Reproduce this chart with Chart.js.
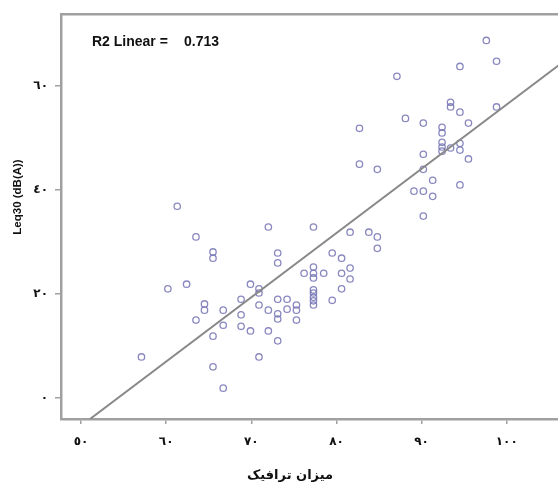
<!DOCTYPE html>
<html>
<head>
<meta charset="utf-8">
<script src="https://cdn.jsdelivr.net/npm/chart.js@4.4.1/dist/chart.umd.min.js"></script>
<style>
html,body{margin:0;padding:0;background:#fff;overflow:hidden;width:558px;height:486px}
#wrap{width:564px;height:486px;position:relative}
</style>
</head>
<body>
<div id="wrap"><canvas id="chart"></canvas></div>
<script>
// traffic volume vs Leq30
const traffic = [
  97.6, 98.8, 94.5, 87.1, 93.4, 93.4, 94.5, 98.8, 88.1, 90.2,
  95.5, 82.7, 92.4, 92.4, 92.4, 92.4, 92.4, 93.4, 94.5, 94.5,
  90.2, 95.5, 82.7, 84.8, 90.2, 91.3, 94.5, 89.1, 90.2, 91.3,
  90.2, 77.3, 81.6, 83.8, 84.8, 84.8, 79.5, 80.6, 77.3, 77.3,
  77.3, 76.2, 78.5, 80.6, 81.6, 81.6, 80.6, 77.3, 77.3, 77.3,
  77.3, 77.3, 79.5, 72.0, 73.1, 73.1, 69.9, 70.9, 70.9, 70.9,
  73.1, 74.2, 72.0, 74.2, 73.1, 73.1, 75.3, 75.3, 75.3, 69.9,
  72.0, 73.1, 68.8, 68.8, 68.8, 66.7, 66.7, 64.5, 64.5, 63.5,
  65.5, 60.2, 62.4, 65.5, 65.5, 63.5, 61.3, 57.1, 70.9, 65.5,
  66.7
];
const leq = [
  68.8, 64.8, 63.8, 61.9, 56.9, 56.0, 55.0, 56.0, 53.8, 52.9,
  52.9, 51.9, 52.1, 51.0, 49.2, 48.3, 47.5, 48.1, 49.0, 47.7,
  46.9, 46.0, 45.0, 44.0, 44.0, 41.9, 41.0, 39.8, 39.8, 38.8,
  35.0, 32.9, 31.9, 31.9, 31.0, 28.8, 27.9, 26.9, 25.2, 24.0,
  23.1, 24.0, 24.0, 24.0, 25.0, 22.9, 21.0, 20.8, 20.2, 19.4,
  18.7, 17.9, 18.8, 32.9, 27.9, 26.0, 21.9, 21.0, 20.2, 17.9,
  19.0, 19.0, 16.9, 17.1, 16.2, 15.2, 17.9, 16.9, 15.0, 12.9,
  12.9, 11.0, 19.0, 16.0, 13.8, 16.9, 14.0, 18.1, 16.9, 15.0,
  11.9, 21.0, 21.9, 28.1, 26.9, 31.0, 36.9, 7.9, 7.9, 6.0,
  1.9
];

// fit line end points (read from where it meets the frame)
const fitX = [51.06, 106.1];
const fitY = [-4.04, 64.04];

const xTicks = [50, 60, 70, 80, 90, 100];
const xTickLabels = ['٥٠', '٦٠', '٧٠', '٨٠', '٩٠', '١٠٠'];
const yTicks = [0, 20, 40, 60];
const yTickLabels = ['٠', '٢٠', '٤٠', '٦٠'];

const xTitle = 'میزان ترافیک';
const yTitle = 'Leq30 (dB(A))';
const r2Label = 'R2 Linear =';
const r2Value = '0.713';

const FRAME = '#a0a0a0';

const points = traffic.map((x, i) => ({x, y: leq[i]}));
const fitLine = fitX.map((x, i) => ({x, y: fitY[i]}));

const tickMap = (vals, labels) => v => {
  const i = vals.indexOf(v);
  return i < 0 ? '' : labels[i];
};

// top frame line + free texts
const extras = {
  id: 'extras',
  afterDraw(chart){
    const {ctx, chartArea: a} = chart;
    ctx.save();
    ctx.strokeStyle = FRAME;
    ctx.lineWidth = 2.5;
    ctx.beginPath();
    ctx.moveTo(a.left - 1, a.top);
    ctx.lineTo(chart.width, a.top);
    ctx.stroke();

    ctx.fillStyle = '#111';
    ctx.textBaseline = 'middle';
    ctx.font = 'bold 14px "Liberation Sans", Arial, sans-serif';
    ctx.textAlign = 'left';
    ctx.fillText(r2Label, 92, 42);
    ctx.fillText(r2Value, 184, 42);

    ctx.font = 'bold 13px "DejaVu Sans", sans-serif';
    ctx.textAlign = 'center';
    ctx.fillText(xTitle, 290, 476);

    ctx.translate(18, 197);
    ctx.rotate(-Math.PI / 2);
    ctx.font = 'bold 11.5px "Liberation Sans", Arial, sans-serif';
    ctx.fillText(yTitle, 0, 0);
    ctx.restore();
  }
};

new Chart(document.getElementById('chart'), {
  type: 'scatter',
  data: {
    datasets: [
      {
        label: 'Leq30',
        data: points,
        pointStyle: 'circle',
        pointRadius: 3.2,
        pointBorderWidth: 1.3,
        borderColor: 'rgba(115,115,180,0.85)',
        backgroundColor: 'rgba(255,255,255,0)',
        order: 2
      },
      {
        type: 'line',
        label: 'fit',
        data: fitLine,
        borderColor: '#888888',
        borderWidth: 2,
        pointRadius: 0,
        fill: false,
        order: 1
      }
    ]
  },
  plugins: [extras],
  options: {
    responsive: true,
    maintainAspectRatio: false,
    animation: false,
    events: [],
    layout: {padding: {top: 14, left: 0, right: 0, bottom: 0}},
    plugins: {legend: {display: false}, tooltip: {enabled: false}},
    scales: {
      x: {
        type: 'linear',
        min: 47.65,
        max: 106.1,
        afterBuildTicks: s => { s.ticks = xTicks.map(v => ({value: v})); },
        afterFit: s => { s.height = 67; },
        grid: {drawOnChartArea: false, tickLength: 5, color: FRAME, lineWidth: 1.5},
        border: {color: FRAME, width: 2.5},
        ticks: {
          callback: tickMap(xTicks, xTickLabels),
          padding: 11,
          color: '#111',
          maxRotation: 0,
          font: {family: '"DejaVu Sans", sans-serif', size: 12, weight: 'bold'}
        }
      },
      y: {
        type: 'linear',
        min: -4.04,
        max: 73.85,
        afterBuildTicks: s => { s.ticks = yTicks.map(v => ({value: v})); },
        afterFit: s => { s.width = 61; },
        grid: {drawOnChartArea: false, tickLength: 6, color: FRAME, lineWidth: 1.5},
        border: {color: FRAME, width: 2.5},
        ticks: {
          callback: tickMap(yTicks, yTickLabels),
          padding: 7,
          color: '#111',
          font: {family: '"DejaVu Sans", sans-serif', size: 12, weight: 'bold'}
        }
      }
    }
  }
});
</script>
</body>
</html>
